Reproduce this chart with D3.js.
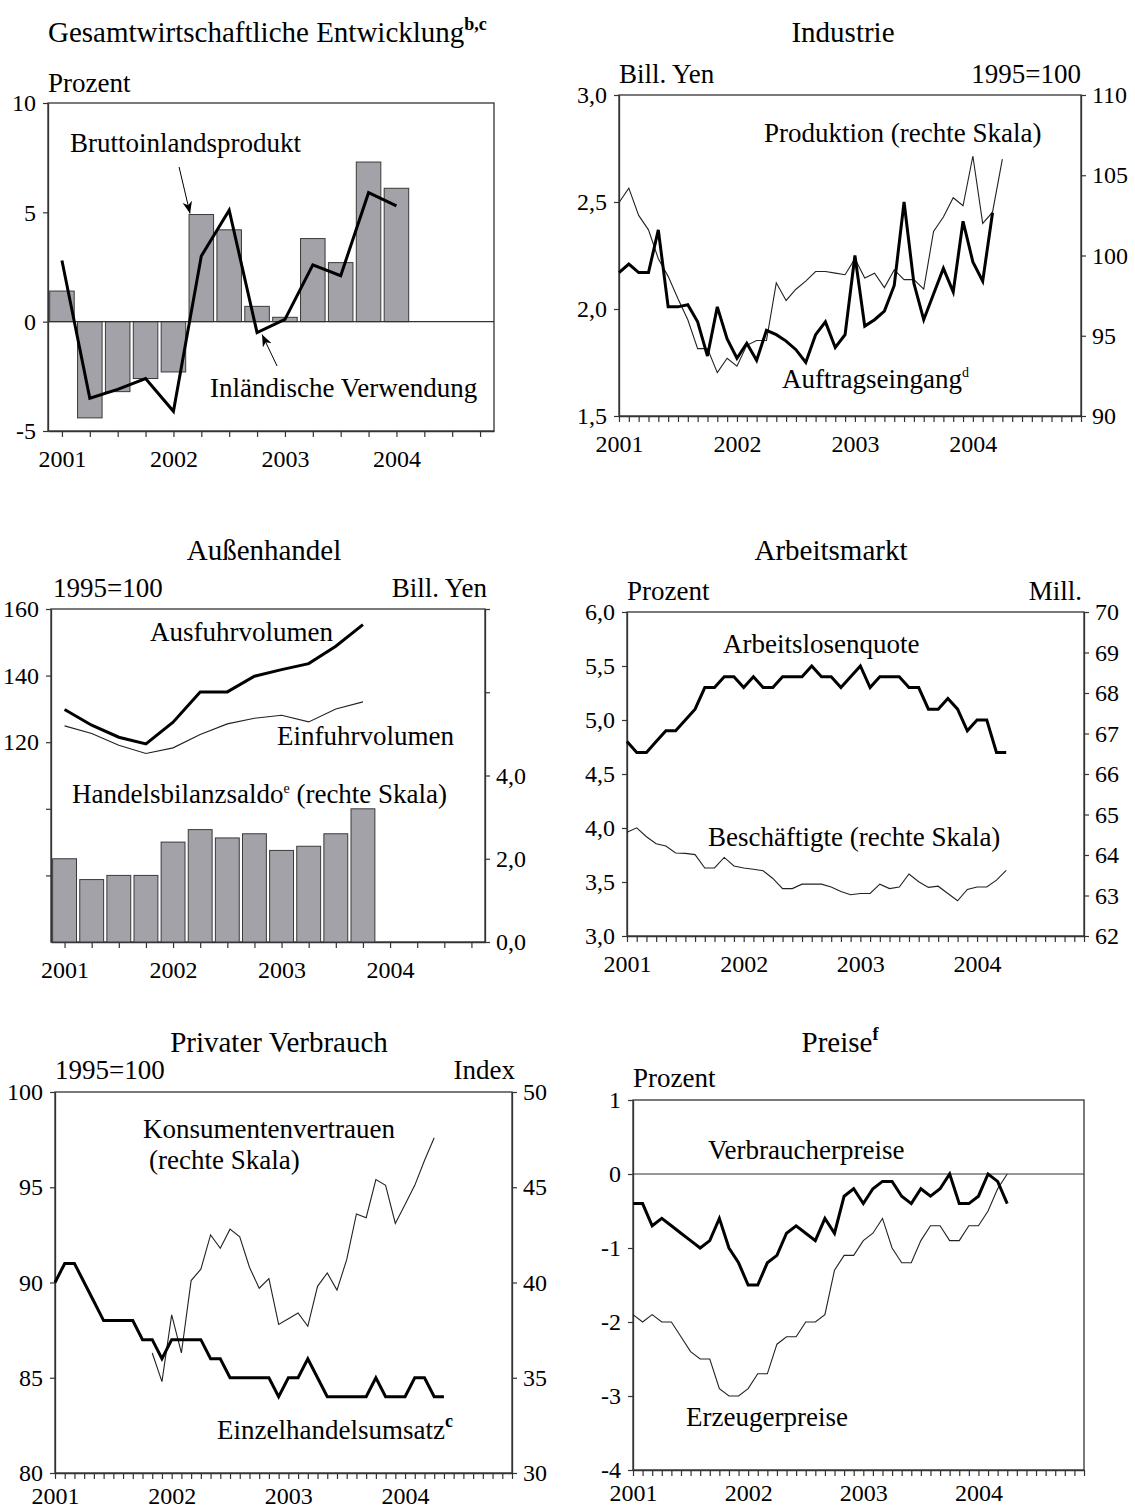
<!DOCTYPE html>
<html>
<head>
<meta charset="utf-8">
<script src="https://cdnjs.cloudflare.com/ajax/libs/d3/7.8.5/d3.min.js"></script>
<style>
  body { margin: 0; background: #fff; }
  svg text { font-family: "Liberation Serif", "Times New Roman", serif; fill: #000; }
</style>
</head>
<body>
<script>
// ---- data ----
const years = ["2001", "2002", "2003", "2004"];

// Gesamtwirtschaftliche Entwicklung (quarterly, 2001Q1 - 2004Q1)
const gdp = [1.4, -4.4, -3.2, -2.6, -2.3, 4.9, 4.2, 0.7, 0.2, 3.8, 2.7, 7.3, 6.1];
const domesticDemand = [2.8, -3.5, -3.1, -2.6, -4.1, 3.0, 5.1, -0.5, 0.1, 2.6, 2.1, 5.9, 5.3];

// Industrie (monthly from Jan 2001)
const orders = [2.17, 2.21, 2.17, 2.17, 2.37, 2.01, 2.01, 2.02, 1.94, 1.78, 2.01, 1.86,
  1.77, 1.84, 1.76, 1.90, 1.88, 1.85, 1.81, 1.75, 1.88, 1.94, 1.82, 1.88,
  2.25, 1.92, 1.95, 1.99, 2.11, 2.50, 2.12, 1.95, 2.07, 2.19, 2.08, 2.41,
  2.22, 2.13, 2.45];
const production = [103.3, 104.2, 102.5, 101.6, 99.8, 98.7, 97.3, 96.0, 94.2, 94.2, 92.7, 93.6,
  93.1, 94.4, 94.7, 94.7, 98.3, 97.2, 97.9, 98.4, 99.0, 99.0, 98.9, 98.8,
  99.8, 98.6, 98.9, 98.0, 99.1, 98.5, 98.5, 97.9, 101.5, 102.4, 103.6, 103.1,
  106.2, 102.0, 102.7, 106.0];

// Außenhandel (quarterly)
const exportVolume = [129.8, 125.1, 121.5, 119.5, 126.0, 135.1, 135.1, 139.8, 141.8, 143.6, 148.8, 155.3];
const importVolume = [124.9, 122.6, 119.1, 116.6, 118.3, 122.3, 125.5, 127.2, 128.1, 126.1, 130.0, 132.1];
const tradeBalance = [2.0, 1.5, 1.6, 1.6, 2.4, 2.7, 2.5, 2.6, 2.2, 2.3, 2.6, 3.2];

// Arbeitsmarkt (monthly)
const unemployment = [4.8, 4.7, 4.7, 4.8, 4.9, 4.9, 5.0, 5.1, 5.3, 5.3, 5.4, 5.4,
  5.3, 5.4, 5.3, 5.3, 5.4, 5.4, 5.4, 5.5, 5.4, 5.4, 5.3, 5.4,
  5.5, 5.3, 5.4, 5.4, 5.4, 5.3, 5.3, 5.1, 5.1, 5.2, 5.1, 4.9,
  5.0, 5.0, 4.7, 4.7];
const employed = [64.56, 64.67, 64.45, 64.28, 64.22, 64.05, 64.04, 64.01, 63.68, 63.68, 63.94, 63.73,
  63.68, 63.65, 63.61, 63.42, 63.17, 63.17, 63.28, 63.28, 63.28, 63.21, 63.10, 63.02,
  63.05, 63.05, 63.28, 63.17, 63.21, 63.53, 63.34, 63.20, 63.23, 63.05, 62.87, 63.15,
  63.21, 63.21, 63.38, 63.62];

// Privater Verbrauch (monthly)
const retailSales = [90, 91, 91, 90, 89, 88, 88, 88, 88, 87, 87, 86,
  87, 87, 87, 87, 86, 86, 85, 85, 85, 85, 85, 84,
  85, 85, 86, 85, 84, 84, 84, 84, 84, 85, 84, 84,
  84, 85, 85, 84, 84];
const confidenceStart = 10; // first month with a value (Nov 2001)
const confidence = [36.3, 34.8, 38.3, 36.3, 40.1, 40.7, 42.5, 41.8, 42.8, 42.4,
  40.8, 39.7, 40.2, 37.8, 38.1, 38.4, 37.7, 39.8, 40.5, 39.6,
  41.2, 43.6, 43.4, 45.4, 45.1, 43.1, 44.1, 45.1, 46.4, 47.6];

// Preise (monthly)
const consumerPrices = [-0.4, -0.4, -0.7, -0.6, -0.7, -0.8, -0.9, -1.0, -0.9, -0.6, -1.0, -1.2,
  -1.5, -1.5, -1.2, -1.1, -0.8, -0.7, -0.8, -0.9, -0.6, -0.8, -0.3, -0.2,
  -0.4, -0.2, -0.1, -0.1, -0.3, -0.4, -0.2, -0.3, -0.2, 0.0, -0.4, -0.4,
  -0.3, 0.0, -0.1, -0.4];
const producerPrices = [-1.9, -2.0, -1.9, -2.0, -2.0, -2.2, -2.4, -2.5, -2.5, -2.9, -3.0, -3.0,
  -2.9, -2.7, -2.7, -2.3, -2.2, -2.2, -2.0, -2.0, -1.9, -1.3, -1.1, -1.1,
  -0.9, -0.8, -0.6, -1.0, -1.2, -1.2, -0.9, -0.7, -0.7, -0.9, -0.9, -0.7,
  -0.7, -0.5, -0.2, 0.0];

// ---- drawing ----
const FONT = '"Liberation Serif", "Times New Roman", serif';
const svg = d3.select("body").append("svg").attr("width", 1135).attr("height", 1508)
  .attr("font-family", FONT);
const de = d3.formatLocale({ decimal: ",", thousands: ".", grouping: [3], currency: ["", ""] });
const f1 = de.format(".1f");
const plain = d => String(d);

const AX = "#333";
const BAR = "#a2a2a8";

function styleAxis(g) {
  g.attr("font-size", 24).attr("font-family", FONT);
  g.select(".domain").attr("stroke", AX).attr("stroke-width", 1.3);
  g.selectAll(".tick line").attr("stroke", AX).attr("stroke-width", 1.2);
  g.selectAll(".tick text").attr("fill", "#000").style("font-family", FONT);
}

function panel(p) {
  const x = d3.scaleLinear().domain(p.xDomain).range([p.l, p.r]);
  svg.append("rect").attr("x", p.l).attr("y", p.t).attr("width", p.r - p.l).attr("height", p.b - p.t)
    .attr("fill", "none").attr("stroke", AX).attr("stroke-width", 1.3);
  const per = p.perYear;
  svg.append("g").attr("transform", `translate(0,${p.b})`)
    .call(d3.axisBottom(x).tickValues(d3.range(p.nTicks)).tickSize(6).tickPadding(p.pad || 13).tickSizeOuter(0)
      .tickFormat(i => i % per === 0 ? years[i / per] : ""))
    .call(styleAxis);
  return x;
}

function leftAxis(y, l, vals, fmt) {
  svg.append("g").attr("transform", `translate(${l},0)`)
    .call(d3.axisLeft(y).tickValues(vals).tickFormat(fmt).tickSize(5).tickPadding(7).tickSizeOuter(0))
    .call(styleAxis);
}
function rightAxis(y, r, vals, fmt) {
  svg.append("g").attr("transform", `translate(${r},0)`)
    .call(d3.axisRight(y).tickValues(vals).tickFormat(fmt).tickSize(5).tickPadding(6).tickSizeOuter(0))
    .call(styleAxis);
}

function text(x, y, str, opt) {
  opt = opt || {};
  const t = svg.append("text").attr("x", x).attr("y", y).attr("font-size", opt.size || 27)
    .attr("text-anchor", opt.anchor || "start").text(str);
  if (opt.sup) {
    t.append("tspan").attr("dy", -(opt.supDy || 11)).attr("font-size", opt.supSize || 15)
      .attr("font-weight", opt.supBold ? "bold" : null).text(opt.sup);
  }
  return t;
}

function drawLine(data, x, y, width, offset) {
  const off = offset || 0;
  svg.append("path").datum(data)
    .attr("fill", "none").attr("stroke", width > 2 ? "#000" : "#222")
    .attr("stroke-width", width).attr("stroke-linejoin", "miter")
    .attr("d", d3.line().x((d, i) => x(i + off)).y(d => y(d)));
}

function drawBars(data, x, y, base) {
  const bw = 0.88 * (x(1) - x(0));
  svg.append("g").selectAll("rect").data(data).join("rect")
    .attr("x", (d, i) => x(i) - bw / 2)
    .attr("y", d => y(Math.max(base, d)))
    .attr("width", bw)
    .attr("height", d => Math.abs(y(d) - y(base)))
    .attr("fill", BAR).attr("stroke", "#3a3a3a").attr("stroke-width", 1);
}

// arrow marker
svg.append("defs").append("marker").attr("id", "arr").attr("viewBox", "0 0 10 10")
  .attr("refX", 10).attr("refY", 5).attr("markerWidth", 12).attr("markerHeight", 12)
  .attr("markerUnits", "userSpaceOnUse").attr("orient", "auto")
  .append("path").attr("d", "M0,1 L10,5 L0,9 L3,5 Z").attr("fill", "#000");

// ---------- Panel 1: Gesamtwirtschaftliche Entwicklung ----------
{
  const p = { l: 48, r: 494, t: 103, b: 431, xDomain: [-0.5, 15.5], nTicks: 16, perYear: 4 };
  const x = panel(p);
  const y = d3.scaleLinear().domain([-5, 10]).range([p.b, p.t]);
  leftAxis(y, p.l, [-5, 0, 5, 10], plain);
  drawBars(gdp, x, y, 0);
  svg.append("line").attr("x1", p.l).attr("x2", p.r).attr("y1", y(0)).attr("y2", y(0))
    .attr("stroke", AX).attr("stroke-width", 1.2);
  drawLine(domesticDemand, x, y, 3);
  text(48, 42, "Gesamtwirtschaftliche Entwicklung", { size: 29, sup: "b,c", supSize: 18, supBold: true, supDy: 12 });
  text(48, 92, "Prozent");
  text(70, 152, "Bruttoinlandsprodukt");
  text(210, 397, "Inländische Verwendung");
  const bw = 0.88 * (x(1) - x(0));
  svg.append("line").attr("x1", x(5) - bw / 2 - 10).attr("y1", 167)
    .attr("x2", x(5) - bw / 2 + 1).attr("y2", y(gdp[5]) - 1)
    .attr("stroke", "#000").attr("stroke-width", 1).attr("marker-end", "url(#arr)");
  svg.append("line").attr("x1", x(7) + 20).attr("y1", 366)
    .attr("x2", x(7) + 5).attr("y2", y(domesticDemand[7]) + 2)
    .attr("stroke", "#000").attr("stroke-width", 1).attr("marker-end", "url(#arr)");
}

// ---------- Panel 2: Industrie ----------
{
  const p = { l: 619, r: 1081, t: 95, b: 416, xDomain: [0, 47], nTicks: 48, perYear: 12 };
  const x = panel(p);
  const yL = d3.scaleLinear().domain([1.5, 3.0]).range([p.b, p.t]);
  const yR = d3.scaleLinear().domain([90, 110]).range([p.b, p.t]);
  leftAxis(yL, p.l, [1.5, 2.0, 2.5, 3.0], f1);
  rightAxis(yR, p.r, [90, 95, 100, 105, 110], plain);
  drawLine(production, x, yR, 1.1);
  drawLine(orders, x, yL, 3);
  text(843, 42, "Industrie", { size: 29, anchor: "middle" });
  text(619, 83, "Bill. Yen");
  text(1081, 83, "1995=100", { anchor: "end" });
  text(764, 142, "Produktion (rechte Skala)");
  text(782, 388, "Auftragseingang", { sup: "d", supSize: 14, supDy: 11 });
}

// ---------- Panel 3: Außenhandel ----------
{
  const p = { l: 51, r: 485, t: 609, b: 942, xDomain: [-0.5, 15.5], nTicks: 16, perYear: 4 };
  const x = panel(p);
  const yL = d3.scaleLinear().domain([60, 160]).range([p.b, p.t]);
  const yR = d3.scaleLinear().domain([0, 8]).range([p.b, p.t]);
  leftAxis(yL, p.l, [80, 100, 120, 140, 160], d => d >= 120 ? String(d) : "");
  rightAxis(yR, p.r, [0, 2, 4, 6, 8], d => d <= 4 ? f1(d) : "");
  drawBars(tradeBalance, x, yR, 0);
  drawLine(importVolume, x, yL, 1.1);
  drawLine(exportVolume, x, yL, 3);
  text(264, 560, "Außenhandel", { size: 29, anchor: "middle" });
  text(53, 597, "1995=100");
  text(487, 597, "Bill. Yen", { anchor: "end" });
  text(150, 641, "Ausfuhrvolumen");
  text(277, 745, "Einfuhrvolumen");
  const hb = text(72, 803, "Handelsbilanzsaldo", { sup: "e", supSize: 14, supDy: 10 });
  hb.append("tspan").attr("dy", 10).text(" (rechte Skala)");
}

// ---------- Panel 4: Arbeitsmarkt ----------
{
  const p = { l: 627, r: 1084, t: 612, b: 936, xDomain: [0, 47], nTicks: 48, perYear: 12 };
  const x = panel(p);
  const yL = d3.scaleLinear().domain([3, 6]).range([p.b, p.t]);
  const yR = d3.scaleLinear().domain([62, 70]).range([p.b, p.t]);
  leftAxis(yL, p.l, d3.range(3, 6.01, 0.5), f1);
  rightAxis(yR, p.r, d3.range(62, 71), plain);
  drawLine(employed, x, yR, 1.1);
  drawLine(unemployment, x, yL, 3);
  text(831, 560, "Arbeitsmarkt", { size: 29, anchor: "middle" });
  text(627, 600, "Prozent");
  text(1082, 600, "Mill.", { anchor: "end" });
  text(723, 653, "Arbeitslosenquote");
  text(708, 846, "Beschäftigte (rechte Skala)");
}

// ---------- Panel 5: Privater Verbrauch ----------
{
  const p = { l: 55, r: 512, t: 1092, b: 1473, xDomain: [0, 47], nTicks: 48, perYear: 12, pad: 8 };
  const x = panel(p);
  const yL = d3.scaleLinear().domain([80, 100]).range([p.b, p.t]);
  const yR = d3.scaleLinear().domain([30, 50]).range([p.b, p.t]);
  leftAxis(yL, p.l, [80, 85, 90, 95, 100], plain);
  rightAxis(yR, p.r, [30, 35, 40, 45, 50], plain);
  drawLine(confidence, x, yR, 1.1, confidenceStart);
  drawLine(retailSales, x, yL, 3);
  text(279, 1052, "Privater Verbrauch", { size: 29, anchor: "middle" });
  text(55, 1079, "1995=100");
  text(515, 1079, "Index", { anchor: "end" });
  text(143, 1138, "Konsumentenvertrauen");
  text(149, 1169, "(rechte Skala)");
  text(217, 1439, "Einzelhandelsumsatz", { sup: "c", supSize: 18, supBold: true, supDy: 12 });
}

// ---------- Panel 6: Preise ----------
{
  const p = { l: 633, r: 1084, t: 1100, b: 1470, xDomain: [0, 47], nTicks: 48, perYear: 12, pad: 8 };
  const x = panel(p);
  const y = d3.scaleLinear().domain([-4, 1]).range([p.b, p.t]);
  leftAxis(y, p.l, [-4, -3, -2, -1, 0, 1], plain);
  svg.append("line").attr("x1", p.l).attr("x2", p.r).attr("y1", y(0)).attr("y2", y(0))
    .attr("stroke", AX).attr("stroke-width", 1.2);
  drawLine(producerPrices, x, y, 1.1);
  drawLine(consumerPrices, x, y, 3);
  text(840, 1052, "Preise", { size: 29, anchor: "middle", sup: "f", supSize: 18, supBold: true, supDy: 12 });
  text(633, 1087, "Prozent");
  text(708, 1159, "Verbraucherpreise");
  text(686, 1426, "Erzeugerpreise");
}
</script>
</body>
</html>
